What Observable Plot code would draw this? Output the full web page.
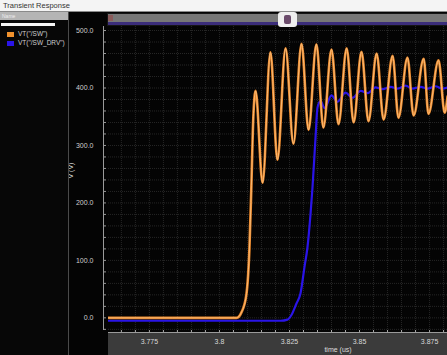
<!DOCTYPE html>
<html><head><meta charset="utf-8">
<script src="https://cdn.jsdelivr.net/npm/d3@7"></script>
<script src="https://cdn.jsdelivr.net/npm/@observablehq/plot@0.6"></script>
<style>
html,body{margin:0;padding:0;background:#000;}
#wrap{position:relative;width:447px;height:355px;overflow:hidden;background:#040404;font-family:"Liberation Sans",Arial,sans-serif;}
#xband{position:absolute;left:108px;top:333px;width:339px;height:22px;background:#3b3b3b;}
#chart{position:absolute;left:0;top:0;}
#titlebar{position:absolute;left:0;top:0;width:447px;height:12px;background:#f4f4f4;border-bottom:1px solid #8a8a8a;box-sizing:border-box;font-size:7.5px;line-height:11px;color:#333;padding-left:3px;}
#leftpanel{position:absolute;left:0;top:12px;width:69px;height:343px;background:#070707;border-right:1px solid #4a4a4a;box-sizing:border-box;}
#namehdr{position:absolute;left:0;top:0;width:68px;height:8px;background:#b5b5b5;font-size:5px;line-height:8px;color:#eee;padding-left:2px;box-sizing:border-box}
#whitebar{position:absolute;left:1px;top:11px;width:54px;height:3px;background:#f5f5f5;}
.leg{position:absolute;left:7px;font-size:6.5px;color:#cfcfcf;line-height:6px;white-space:nowrap}
.sw{display:inline-block;width:7px;height:5px;margin-right:4px;vertical-align:middle}
#scroll{position:absolute;left:107px;top:13px;width:340px;height:13px;background:#151515;}
#scroll .track{position:absolute;left:1px;top:1px;right:0;height:8px;background:#777}
#scroll .purple{position:absolute;left:1px;top:9px;right:0;height:3px;background:#3b2d7a}
#scroll .red{position:absolute;left:1px;top:2px;width:5px;height:6px;background:#8a5a5a}
#scroll .handle{position:absolute;left:171px;top:-1px;width:19px;height:15px;background:#eeeeee;border-radius:3px}
#scroll .icon{position:absolute;left:6px;top:3px;width:7px;height:9px;background:#6a4a6a;border-radius:2px}
</style>
</head><body>
<div id="wrap">
  <div id="xband"></div>
  <div id="chart"></div>
  <div id="scroll"><div class="track"></div><div class="purple"></div><div class="red"></div><div class="handle"><div class="icon"></div></div></div>
  <div id="leftpanel">
    <div id="namehdr">Name</div>
    <div id="whitebar"></div>
    <div class="leg" style="top:19px"><span class="sw" style="background:#f0922e"></span><span id="l0"></span></div>
    <div class="leg" style="top:28px"><span class="sw" style="background:#2a14e8"></span><span id="l1"></span></div>
  </div>
  <div id="titlebar">Transient Response</div>
</div>
<script>
// ---- data ----
const seriesNames = ['VT("/SW")', 'VT("/SW_DRV")'];
const xDomain = [3.7604, 3.8814];
const yDomain = [-22, 507];
const xTicks = [3.775, 3.8, 3.825, 3.85, 3.875];
const xTickLabels = ["3.775", "3.8", "3.825", "3.85", "3.875"];
const yTicks = [0, 100, 200, 300, 400, 500];
const yTickLabels = ["0.0", "100.0", "200.0", "300.0", "400.0", "500.0"];
const xLabel = "time (us)";
const yLabel = "V (V)";

// VT("/SW") — time (us), value (V)
const swTime = [3.7604, 3.8061, 3.8079, 3.8096, 3.8107, 3.8114, 3.8121, 3.8129, 3.8154, 3.8182, 3.8207, 3.8236, 3.8264, 3.8293, 3.8318, 3.8346, 3.8371, 3.8400, 3.8425, 3.8454, 3.8479, 3.8507, 3.8532, 3.8561, 3.8586, 3.8618, 3.8639, 3.8671, 3.8693, 3.8729, 3.8746, 3.8782, 3.8804, 3.8814];
const swValue = [0, 0, 10, 40, 120, 230, 350, 395, 235, 462, 275, 469, 303, 477, 327, 476, 331, 467, 337, 469, 340, 463, 342, 460, 345, 456, 348, 453, 352, 451, 355, 448, 357, 385];

// VT("/SW_DRV")
const drvTime = [3.7604, 3.8218, 3.8243, 3.8257, 3.8275, 3.8289, 3.8304, 3.8314, 3.8325, 3.8332, 3.8343, 3.8350, 3.8361, 3.8375, 3.8400, 3.8421, 3.8450, 3.8475, 3.8504, 3.8529, 3.8557, 3.8582, 3.8611, 3.8636, 3.8664, 3.8689, 3.8718, 3.8743, 3.8771, 3.8796, 3.8814];
const drvValue = [-5, -5, -3, 5, 25, 42, 90, 122, 180, 226, 314, 366, 377, 365, 387, 376, 392, 383, 395, 391, 401, 398, 402, 399, 404, 399, 402, 399, 403, 399, 401];

document.getElementById("l0").textContent = seriesNames[0];
document.getElementById("l1").textContent = seriesNames[1];

const sw = swTime.map((t, i) => ({t, v: swValue[i]}));
const drv = drvTime.map((t, i) => ({t, v: drvValue[i]}));

const minorX = d3.range(753, 777).map(k => k * 0.005);
const minorY = d3.range(-20, 501, 20);

const chart = Plot.plot({
  width: 447, height: 355,
  marginLeft: 108, marginRight: 0, marginTop: 26, marginBottom: 25,
  style: {background: "transparent", color: "#d0d0d0", fontFamily: "'Liberation Sans', Arial, sans-serif", fontSize: "7px"},
  x: {domain: xDomain},
  y: {domain: yDomain},
  marks: [
    Plot.gridX(minorX, {stroke: "#262626", strokeOpacity: 1, strokeDasharray: "1,1"}),
    Plot.gridY(minorY, {stroke: "#262626", strokeOpacity: 1, strokeDasharray: "1,1"}),
    Plot.line(drv, {x: "t", y: "v", stroke: "#2a14e8", strokeWidth: 2.2, curve: "monotone-x", clip: true}),
    Plot.line(sw, {x: "t", y: "v", stroke: "#e8862a", strokeWidth: 2.6, curve: "monotone-x", clip: true}),
    Plot.line(sw, {x: "t", y: "v", stroke: "#ffc888", strokeWidth: 0.8, curve: "monotone-x", clip: true}),
    Plot.ruleX([xDomain[0]], {dx: -5, stroke: "#9a9a9a"}),
    Plot.ruleY([yDomain[0]], {dy: 2, stroke: "#9a9a9a"}),
    Plot.axisY(minorY, {tickSize: 3, dx: -2, tickFormat: () => "", label: null, stroke: "#9a9a9a"}),
    Plot.axisY(yTicks, {tickSize: 0, tickPadding: 15, tickFormat: d => yTickLabels[yTicks.indexOf(d)], label: null, fill: "#cfcfcf", fontSize: 7}),
    Plot.axisX(minorX, {tickSize: 2, tickFormat: () => "", label: null, stroke: "#aaaaaa"}),
    Plot.axisX(xTicks, {tickSize: 0, tickPadding: 9, tickFormat: d => xTickLabels[xTicks.indexOf(d)], label: null, fill: "#d8d8d8", fontSize: 7}),
    Plot.text([xLabel], {frameAnchor: "bottom", dx: 60, dy: 21, fill: "#dddddd", fontSize: 7}),
    Plot.text([yLabel], {frameAnchor: "left", dx: -38, rotate: -90, fill: "#dddddd", fontSize: 7})
  ]
});
document.getElementById("chart").appendChild(chart);
</script>
</body></html>
